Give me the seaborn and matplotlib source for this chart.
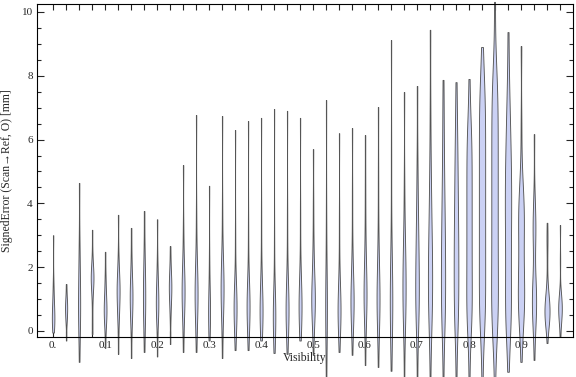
import pandas as pd
import seaborn as sns
import matplotlib.pyplot as plt

# visibility bin positions
vis_bins = [0.0, 0.025, 0.05, 0.075, 0.1, 0.125, 0.15, 0.175, 0.2, 0.225,
            0.25, 0.275, 0.3, 0.325, 0.35, 0.375, 0.4, 0.425, 0.45, 0.475,
            0.5, 0.525, 0.55, 0.575, 0.6, 0.625, 0.65, 0.675, 0.7, 0.725,
            0.75, 0.775, 0.8, 0.825, 0.85, 0.875, 0.9, 0.925, 0.95, 0.975]

# signed errors [mm] per bin
errs_low = [
    [-0.05, 0.1, 0.2, 0.3, 0.4, 0.5, 0.6, 0.75, 0.95, 1.2, 1.55, 3.0],
    [-0.3, 0.25, 0.4, 0.55, 0.65, 0.75, 0.85, 0.95, 1.15, 1.47],
    [-0.97, 0.0, 0.3, 0.6, 0.9, 1.2, 1.6, 2.1, 2.8, 4.64],
    [-0.1, 0.3, 0.9, 1.3, 1.45, 1.55, 1.62, 1.7, 1.78, 1.88, 2.0, 2.4, 3.17],
    [-0.53, 0.1, 0.25, 0.4, 0.55, 0.65, 0.75, 0.85, 1.0, 1.2, 1.45, 1.8, 2.48],
    [-0.72, 0.2, 0.45, 0.7, 0.9, 1.05, 1.2, 1.3, 1.4, 1.55, 1.7, 1.95, 2.4, 3.64],
    [-0.85, 0.1, 0.35, 0.6, 0.8, 0.95, 1.1, 1.25, 1.4, 1.6, 1.9, 2.4, 3.23],
    [-0.66, 0.1, 0.4, 0.7, 0.95, 1.2, 1.45, 1.75, 2.1, 2.7, 3.76],
    [-0.8, 0.2, 0.4, 0.6, 0.75, 0.9, 1.05, 1.2, 1.4, 1.7, 2.2, 3.5],
    [-0.41, 0.4, 0.75, 1.0, 1.15, 1.28, 1.4, 1.52, 1.65, 1.85, 2.15, 2.66],
    [-0.66, 0.2, 0.5, 0.75, 0.95, 1.1, 1.25, 1.4, 1.55, 1.75, 2.0, 2.4, 3.2, 5.2],
    [-0.66, 0.2, 0.45, 0.7, 0.9, 1.05, 1.2, 1.35, 1.5, 1.7, 2.0, 2.5, 3.6, 6.77],
    [-0.3, 0.15, 0.35, 0.55, 0.75, 0.95, 1.25, 2.2, 4.55],
]
errs_mid = [
    [-0.85, 0.3, 0.6, 0.85, 1.05, 1.2, 1.35, 1.5, 1.65, 1.85, 2.1, 2.6, 3.8, 6.74],
    [-0.6, 0.1, 0.25, 0.4, 0.55, 0.65, 0.75, 0.85, 0.95, 1.1, 1.3, 1.7, 3.0, 6.3],
    [-0.6, 0.1, 0.3, 0.45, 0.6, 0.7, 0.8, 0.9, 1.0, 1.15, 1.4, 1.9, 3.2, 6.58],
    [-0.3, 0.1, 0.25, 0.4, 0.5, 0.6, 0.7, 0.8, 0.95, 1.15, 1.5, 2.2, 3.6, 6.68],
    [-0.69, 0.05, 0.2, 0.3, 0.4, 0.48, 0.56, 0.65, 0.8, 1.1, 2.8, 6.96],
    [-0.72, 0.1, 0.25, 0.4, 0.5, 0.6, 0.7, 0.8, 0.95, 1.15, 1.5, 2.2, 3.6, 6.9],
    [-0.3, 0.15, 0.35, 0.5, 0.62, 0.74, 0.85, 0.97, 1.1, 1.3, 1.6, 2.2, 3.6, 6.68],
    [-0.75, 0.1, 0.3, 0.5, 0.65, 0.8, 0.95, 1.1, 1.15, 1.25, 1.45, 1.7, 2.0, 2.4,
     3.0, 4.0, 5.7],
    [-1.6, 0.2, 0.5, 0.75, 1.0, 1.5, 3.5, 7.24],
    [-0.66, 0.1, 0.25, 0.4, 0.5, 0.6, 0.7, 0.8, 0.95, 1.15, 1.5, 2.2, 3.5, 6.2],
    [-0.75, 0.2, 0.45, 0.55, 0.65, 0.8, 0.95, 1.1, 1.25, 1.45, 1.7, 2.1, 2.8, 4.2,
     6.36],
    [-1.07, 0.2, 0.5, 0.75, 0.95, 1.1, 1.25, 1.45, 1.7, 2.0, 2.5, 3.3, 4.5, 6.14],
    [-1.13, 0.1, 0.35, 0.6, 0.8, 0.95, 1.1, 1.3, 1.55, 1.9, 2.4, 3.2, 4.8, 7.02],
    [-1.25, 0.1, 0.35, 0.6, 0.8, 1.0, 1.2, 1.5, 2.0, 3.0, 5.5, 9.12],
]
errs_high = [
    [-1.6, 0.0, 0.3, 0.6, 0.85, 1.1, 1.35, 1.6, 1.85, 2.1, 2.4, 2.8, 3.4, 4.6, 7.49],
    [-1.6, 0.0, 0.3, 0.6, 0.85, 1.1, 1.35, 1.6, 1.9, 2.2, 2.5, 2.9, 3.3, 3.8, 4.5,
     5.5, 7.68],
    [-1.6, -0.1, 0.2, 0.5, 0.8, 1.05, 1.3, 1.55, 1.8, 2.05, 2.3, 2.6, 2.9, 3.3, 3.7,
     4.2, 4.8, 5.6, 7.0, 9.44],
    [-1.6, -0.1, 0.2, 0.5, 0.8, 1.1, 1.4, 1.7, 2.0, 2.3, 2.6, 2.95, 3.3, 3.7, 4.1,
     4.6, 5.2, 5.9, 6.8, 7.87],
    [-1.6, -0.1, 0.2, 0.5, 0.8, 1.1, 1.4, 1.7, 2.0, 2.3, 2.6, 2.9, 3.2, 3.5, 3.9,
     4.3, 4.7, 5.1, 5.6, 6.1, 6.8, 7.8],
    [-1.6, 0.0, 0.2, 0.4, 0.65, 0.9, 1.2, 1.5, 1.8, 2.1, 2.4, 2.7, 3.0, 3.3, 3.6,
     3.9, 4.2, 4.5, 4.8, 5.1, 5.4, 5.7, 6.0, 6.3, 6.6, 7.9],
    [-1.6, 0.0, 0.2, 0.45, 0.7, 1.0, 1.3, 1.6, 1.9, 2.2, 2.5, 2.8, 3.1, 3.4, 3.7,
     4.0, 4.3, 4.6, 4.9, 5.2, 5.5, 5.8, 6.1, 6.4, 6.7, 7.0, 7.3, 7.6, 7.9, 8.9],
    [-1.6, -0.1, 0.1, 0.3, 0.5, 0.75, 1.0, 1.3, 1.6, 1.9, 2.2, 2.5, 2.8, 3.1, 3.4,
     3.7, 4.0, 4.3, 4.6, 4.9, 5.2, 5.5, 5.8, 6.1, 6.4, 6.7, 7.0, 7.3, 7.6, 7.9,
     8.3, 10.3],
    [-1.28, -0.1, 0.1, 0.3, 0.5, 0.75, 1.0, 1.3, 1.6, 1.9, 2.2, 2.5, 2.8, 3.1, 3.35,
     3.6, 3.85, 4.1, 4.35, 4.6, 4.85, 5.1, 5.4, 5.7, 6.0, 6.4, 6.8, 7.3, 8.0, 9.37],
    [-0.97, -0.1, 0.2, 0.4, 0.55, 0.7, 0.85, 1.0, 1.15, 1.3, 1.45, 1.6, 1.8, 2.0,
     2.25, 2.5, 2.7, 2.9, 3.1, 3.3, 3.5, 3.65, 3.8, 3.95, 4.1, 4.3, 4.6, 5.2, 6.5,
     8.93],
    [-0.91, 0.0, 0.25, 0.5, 0.6, 0.7, 0.9, 1.1, 1.2, 1.3, 1.5, 1.75, 2.65, 2.9,
     3.1, 3.3, 3.5, 3.7, 4.3, 6.17],
    [-0.38, 0.05, 0.15, 0.22, 0.3, 0.36, 0.42, 0.48, 0.54, 0.6, 0.66, 0.72, 0.78,
     0.84, 0.9, 0.97, 1.05, 1.15, 1.3, 1.6, 2.2, 2.75, 2.95, 3.39],
    [-0.19, 0.2, 0.3, 0.4, 0.48, 0.55, 0.62, 0.68, 0.74, 0.8, 0.86, 0.93, 1.0, 1.1,
     1.25, 2.2, 3.32],
]

xtick_labels = ["0.", "0.1", "0.2", "0.3", "0.4", "0.5", "0.6", "0.7", "0.8", "0.9"]
ytick_values = [0, 2, 4, 6, 8, 10]

all_errs = errs_low + errs_mid + errs_high
rows = [(v, e) for v, errs in zip(vis_bins, all_errs) for e in errs]
df = pd.DataFrame(rows, columns=["Visibility", "SignedError"])

sns.set_style("ticks")
plt.rcParams["font.family"] = ["Liberation Serif", "DejaVu Serif"]

fig = plt.figure(figsize=(5.76, 3.77), dpi=100)
ax = fig.add_axes([37 / 576, 1 - 337 / 377, 536 / 576, 333 / 377])

# width ~ number of observations in the bin
sns.violinplot(data=df, x="Visibility", y="SignedError", native_scale=True,
               density_norm="count", cut=0, inner=None, width=0.52,
               bw_adjust=0.65, color="#cbd1f4", saturation=1,
               linecolor="#555555", linewidth=0.65, ax=ax)
for c in ax.collections:
    c.set_clip_on(False)

ax.set_xlim(-0.031, 1.0)
ax.set_xticks(vis_bins)
ax.set_xticklabels([xtick_labels[i // 4] if i % 4 == 0 else "" for i in range(len(vis_bins))])
ax.set_yticks(ytick_values)
ax.set_yticks([0.5 * j for j in range(21) if j % 4 != 0], minor=True)
ax.set_yticklabels([str(v) for v in ytick_values])
ax.set_ylim(-0.19, 10.25)

ax.tick_params(axis="x", which="both", direction="in", top=True, length=4,
               width=0.8, labelsize=8, pad=3)
ax.tick_params(axis="y", which="major", direction="in", right=True, length=5,
               width=0.8, labelsize=8, pad=3)
ax.tick_params(axis="y", which="minor", direction="in", right=True, length=3,
               width=0.8)
for s in ax.spines.values():
    s.set_linewidth(0.8)
    s.set_color("black")

ax.set_xlabel("Visibility", fontsize=8.5, labelpad=1)
ax.set_ylabel("SignedError (Scan\u2192Ref, O) [mm]", fontsize=8.5, labelpad=6)

fig.savefig("out.png", dpi=100)
